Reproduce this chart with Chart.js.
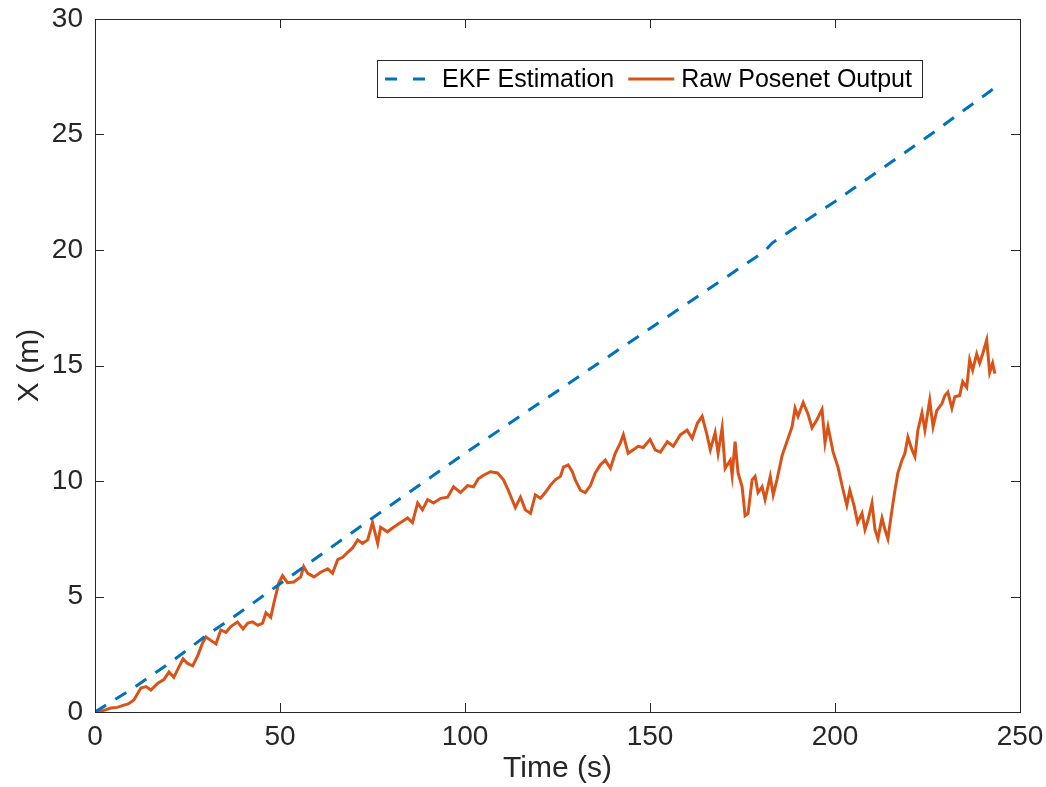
<!DOCTYPE html>
<html>
<head>
<meta charset="utf-8">
<script src="https://cdn.jsdelivr.net/npm/chart.js@4/dist/chart.umd.min.js"></script>
<style>
  html, body { margin: 0; padding: 0; background: #ffffff; }
  #wrap { width: 1046px; height: 787px; }
</style>
</head>
<body>
<div id="wrap"><canvas id="c" width="1046" height="787"></canvas></div>
<script>
// ---- Data ----
const xTicks = [0, 50, 100, 150, 200, 250];
const yTicks = [0, 5, 10, 15, 20, 25, 30];
const xTitle = 'Time (s)';
const yTitle = 'X (m)';
const seriesNames = ['EKF Estimation', 'Raw Posenet Output'];

const ekfT = [0, 10, 20, 30, 40, 50, 75, 100, 125, 150, 175, 181, 183, 200, 225, 243];
const ekfX = [0, 1.0, 2.1, 3.3, 4.4, 5.55, 8.4, 11.2, 13.9, 16.6, 19.3, 19.95, 20.3, 22.1, 24.9, 27.0];

const rawT = [0.0, 2.0, 4.3, 6.0, 7.8, 9.0, 10.5, 12.4, 13.8, 15.1, 17.0, 18.6, 20.0, 21.3, 22.7, 23.8, 25.0, 26.4, 27.8, 29.1,
  30.0, 31.3, 32.7, 34.0, 35.4, 36.7, 38.5, 40.0, 41.3, 42.6, 44.0, 45.3, 46.2, 47.5, 48.4, 49.7, 50.7, 52.0, 53.7, 55.6,
  56.4, 57.5, 59.2, 61.0, 62.9, 64.2, 65.6, 66.9, 68.2, 69.6, 71.0, 72.3, 73.7, 75.0, 76.4, 77.2, 79.0, 80.7, 82.6, 84.5,
  85.8, 87.2, 88.5, 89.9, 91.5, 93.4, 95.3, 96.9, 98.8, 100.7, 102.3, 103.6, 105.0, 106.9, 108.8, 110.4, 111.7, 113.6, 115.0, 116.3,
  117.7, 119.0, 120.4, 121.7, 123.0, 124.4, 125.8, 126.6, 127.9, 129.0, 129.8, 131.2, 132.5, 133.9, 135.2, 136.6, 137.9, 139.3, 140.6, 142.0,
  142.8, 144.1, 145.5, 146.8, 148.2, 150.0, 151.4, 152.8, 154.7, 156.3, 158.2, 160.0, 161.4, 162.8, 164.1, 165.4, 166.3, 167.6, 168.4, 169.5,
  170.3, 171.7, 172.2, 173.0, 173.8, 174.9, 175.7, 176.5, 177.6, 178.4, 179.2, 180.3, 181.1, 182.5, 183.3, 184.3, 185.7, 187.0, 188.4, 189.2,
  190.0, 191.4, 192.7, 193.8, 195.1, 196.5, 197.3, 198.1, 199.5, 200.8, 202.2, 203.2, 204.0, 205.2, 206.1, 207.3, 208.1, 208.9, 210.0, 210.8,
  211.6, 212.7, 213.5, 214.3, 215.4, 216.2, 217.0, 218.1, 218.9, 219.7, 220.8, 221.6, 222.4, 223.5, 224.3, 225.6, 226.5, 227.5, 228.9, 229.7,
  230.5, 231.6, 232.4, 233.7, 234.5, 235.6, 236.4, 237.2, 238.3, 239.1, 239.9, 241.0, 241.8, 242.6, 243.2];
const rawX = [0.0, 0.05, 0.17, 0.2, 0.3, 0.35, 0.52, 1.04, 1.1, 0.95, 1.25, 1.4, 1.73, 1.5, 1.95, 2.3, 2.1, 2.0, 2.45, 3.0,
  3.25, 3.1, 2.95, 3.55, 3.45, 3.7, 3.9, 3.6, 3.85, 3.9, 3.75, 3.85, 4.3, 4.1, 4.75, 5.6, 5.9, 5.6, 5.63, 5.85,
  6.3, 6.0, 5.85, 6.05, 6.2, 6.0, 6.6, 6.7, 6.9, 7.1, 7.45, 7.3, 7.45, 8.2, 7.3, 8.0, 7.8, 8.0, 8.2, 8.4,
  8.2, 9.05, 8.75, 9.2, 9.05, 9.25, 9.3, 9.75, 9.5, 9.8, 9.75, 10.1, 10.25, 10.4, 10.35, 10.05, 9.6, 8.85, 9.3, 8.75,
  8.6, 9.4, 9.25, 9.5, 9.8, 10.05, 10.2, 10.6, 10.7, 10.4, 10.05, 9.6, 9.5, 9.8, 10.35, 10.7, 10.9, 10.55, 11.2, 11.65,
  12.0, 11.2, 11.35, 11.5, 11.45, 11.8, 11.35, 11.25, 11.7, 11.5, 12.0, 12.2, 11.85, 12.5, 12.8, 12.0, 11.35, 12.1, 11.2, 12.3,
  10.55, 10.9, 10.25, 11.7, 10.35, 9.75, 8.5, 8.6, 10.05, 10.2, 9.5, 9.75, 9.2, 10.2, 9.4, 10.05, 11.1, 11.7, 12.35, 13.15,
  12.8, 13.4, 12.9, 12.3, 12.65, 13.1, 11.65, 12.35, 11.25, 10.6, 9.6, 8.95, 9.6, 8.9, 8.2, 8.6, 7.9, 8.3, 9.05, 7.9,
  7.5, 8.4, 7.9, 7.5, 8.75, 9.6, 10.35, 10.9, 11.2, 11.9, 11.35, 11.05, 12.2, 12.95, 12.2, 13.5, 12.35, 13.05, 13.35, 13.7,
  13.85, 13.15, 13.65, 13.7, 14.3, 14.05, 15.25, 14.8, 15.5, 15.1, 15.5, 16.1, 14.7, 15.1, 14.65];

// ---- Styles ----
const FONT = '"Liberation Sans", Arial, Helvetica, sans-serif';
const AXIS_COLOR = '#262626';
const BLUE = '#0072BD';
const ORANGE = '#D95319';

const toPoints = (ts, vs) => ts.map((t, i) => ({ x: t, y: vs[i] }));

const framePlugin = {
  id: 'frame',
  afterDatasetsDraw(chart) {
    const { ctx, chartArea: a, scales: { x, y } } = chart;
    ctx.save();
    ctx.strokeStyle = AXIS_COLOR;
    ctx.lineWidth = 1;
    ctx.strokeRect(Math.round(a.left) + 0.5, Math.round(a.top) + 0.5,
                   Math.round(a.right - a.left), Math.round(a.bottom - a.top));
    const tl = 9;
    ctx.beginPath();
    xTicks.forEach(v => {
      const p = Math.round(x.getPixelForValue(v)) + 0.5;
      ctx.moveTo(p, a.bottom); ctx.lineTo(p, a.bottom - tl);
      ctx.moveTo(p, a.top); ctx.lineTo(p, a.top + tl);
    });
    yTicks.forEach(v => {
      const p = Math.round(y.getPixelForValue(v)) + 0.5;
      ctx.moveTo(a.left, p); ctx.lineTo(a.left + tl, p);
      ctx.moveTo(a.right, p); ctx.lineTo(a.right - tl, p);
    });
    ctx.stroke();

    // legend box (MATLAB style, inside the axes)
    const bx = a.left + 282, by = a.top + 41, bw = 545, bh = 37;
    ctx.fillStyle = '#ffffff';
    ctx.fillRect(bx, by, bw, bh);
    ctx.strokeStyle = AXIS_COLOR;
    ctx.lineWidth = 1;
    ctx.strokeRect(bx + 0.5, by + 0.5, bw, bh);
    const cy = by + bh / 2 + 0.5;
    ctx.lineWidth = 2.8;
    ctx.strokeStyle = BLUE;
    ctx.beginPath();
    ctx.moveTo(bx + 8, cy); ctx.lineTo(bx + 20, cy);
    ctx.moveTo(bx + 36, cy); ctx.lineTo(bx + 48, cy);
    ctx.stroke();
    ctx.font = '25px ' + FONT;
    ctx.fillStyle = '#000000';
    ctx.textBaseline = 'middle';
    ctx.textAlign = 'left';
    ctx.fillText(seriesNames[0], bx + 65, cy + 1);
    const w0 = ctx.measureText(seriesNames[0]).width;
    const sx = bx + 65 + w0 + 14;
    ctx.strokeStyle = ORANGE;
    ctx.beginPath();
    ctx.moveTo(sx, cy); ctx.lineTo(sx + 46, cy);
    ctx.stroke();
    ctx.fillText(seriesNames[1], sx + 53, cy + 1);
    ctx.restore();
  }
};

new Chart(document.getElementById('c'), {
  type: 'line',
  data: {
    datasets: [
      {
        label: seriesNames[0],
        data: toPoints(ekfT, ekfX),
        borderColor: BLUE,
        borderWidth: 3,
        borderDash: [13, 11],
        pointRadius: 0,
        tension: 0,
        fill: false
      },
      {
        label: seriesNames[1],
        data: toPoints(rawT, rawX),
        borderColor: ORANGE,
        borderWidth: 3,
        pointRadius: 0,
        tension: 0,
        fill: false
      }
    ]
  },
  options: {
    responsive: false,
    devicePixelRatio: 1,
    animation: false,
    layout: { padding: { left: 0, right: 26, top: 19, bottom: 0 } },
    plugins: { legend: { display: false }, tooltip: { enabled: false } },
    scales: {
      x: {
        type: 'linear',
        min: 0, max: 250,
        afterFit: s => { s.height = 75; s.paddingLeft = 0; s.paddingRight = 0; },
        afterBuildTicks: s => { s.ticks = xTicks.map(v => ({ value: v })); },
        grid: { display: false, drawTicks: false },
        border: { display: false },
        ticks: { color: AXIS_COLOR, font: { family: FONT, size: 28 }, padding: 8, maxRotation: 0 },
        title: { display: true, text: xTitle, color: AXIS_COLOR, font: { family: FONT, size: 30 }, padding: { top: 0, bottom: 0 } }
      },
      y: {
        min: 0, max: 30,
        afterFit: s => { s.width = 95; s.paddingTop = 0; s.paddingBottom = 0; },
        afterBuildTicks: s => { s.ticks = yTicks.map(v => ({ value: v })); },
        grid: { display: false, drawTicks: false },
        border: { display: false },
        ticks: { color: AXIS_COLOR, font: { family: FONT, size: 28 }, padding: 12 },
        title: { display: true, text: yTitle, color: AXIS_COLOR, font: { family: FONT, size: 30 }, padding: { top: 12, bottom: 0 } }
      }
    }
  },
  plugins: [framePlugin]
});
</script>
</body>
</html>
